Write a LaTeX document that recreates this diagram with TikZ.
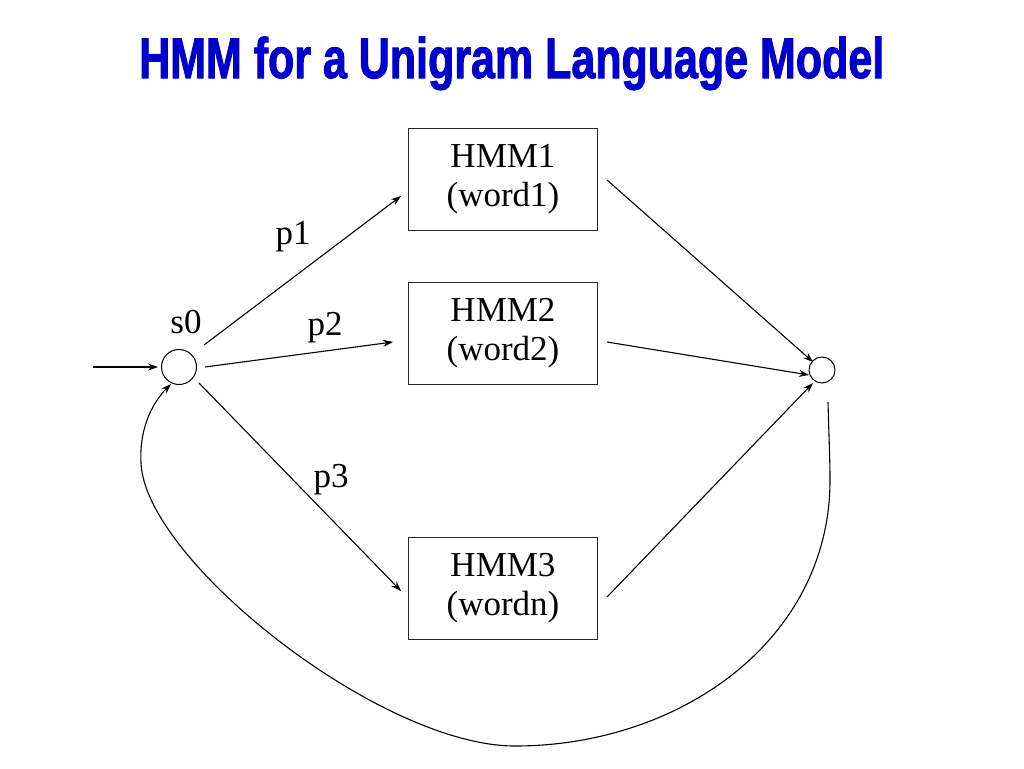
\documentclass[tikz,border=0pt]{standalone}
\usepackage{fontspec}
\setmainfont{Liberation Serif}
\newfontfamily\titlefont[BoldFeatures={FakeBold=2}]{Liberation Sans}
\usetikzlibrary{arrows.meta}
\definecolor{titleblue}{RGB}{0,0,204}
\begin{document}
\begin{tikzpicture}[x=1pt,y=-1pt,
  lbl/.style={font=\fontsize{35}{40}\selectfont, inner sep=0pt},
  hmmbox/.style={draw=black!85, line width=1pt, minimum width=189pt, minimum height=102pt, align=center,
     font=\fontsize{35}{39}\selectfont, inner sep=0pt},
  state/.style={draw, circle, line width=1pt, inner sep=0pt},
  arr/.style={line width=1.1pt, -{Stealth[length=10pt,width=7pt]}}]
\useasboundingbox[fill=white] (0,0) rectangle (1024,768);
\node[anchor=base west, inner sep=0pt, text=titleblue] (title) at (139,78)
  {\resizebox{745pt}{\height}{\titlefont\bfseries\fontsize{57}{60}\selectfont HMM for a Unigram Language Model}};
\node[state, minimum size=35pt] (s0) at (179,367) {};
\node[state, minimum size=26pt] (fin) at (822,370) {};
\node[hmmbox] (b1) at (503,179.5) {HMM1\\(word1)};
\node[hmmbox] (b2) at (503,333.5) {HMM2\\(word2)};
\node[hmmbox] (b3) at (503,588.5) {HMM3\\(wordn)};
\node[lbl] (ls0) at (186,322) {s0};
\node[lbl] (lp1) at (293,237) {p1};
\node[lbl] (lp2) at (325,328) {p2};
\node[lbl] (lp3) at (331,480) {p3};
% connector end points
\coordinate (inS) at (93,367);
\coordinate (inE) at (158,367);
\coordinate (p1s) at (204,345);
\coordinate (p1e) at (401,196);
\coordinate (p2s) at (205,367);
\coordinate (p2e) at (393,342);
\coordinate (p3s) at (199,383);
\coordinate (p3e) at (401,591);
\coordinate (o1s) at (607,180);
\coordinate (o1e) at (813,362);
\coordinate (o2s) at (607,342);
\coordinate (o2e) at (809,375);
\coordinate (o3s) at (607,597);
\coordinate (o3e) at (813,383);
\coordinate (ls) at (828,402);
\coordinate (le) at (171,384);
\draw[arr] (inS) -- (inE);
\draw[arr] (p1s) -- (p1e);
\draw[arr] (p2s) -- (p2e);
\draw[arr] (p3s) -- (p3e);
\draw[arr] (o1s) -- (o1e);
\draw[arr] (o2s) -- (o2e);
\draw[arr] (o3s) -- (o3e);
\draw[arr] (ls) .. controls (829,440) and (830,460) .. (830,480)
  .. controls (830,640) and (680,746) .. (515,746)
  .. controls (380,746) and (145,560) .. (141,463)
  .. controls (139,425) and (155,400) .. (le);
\end{tikzpicture}
\end{document}
